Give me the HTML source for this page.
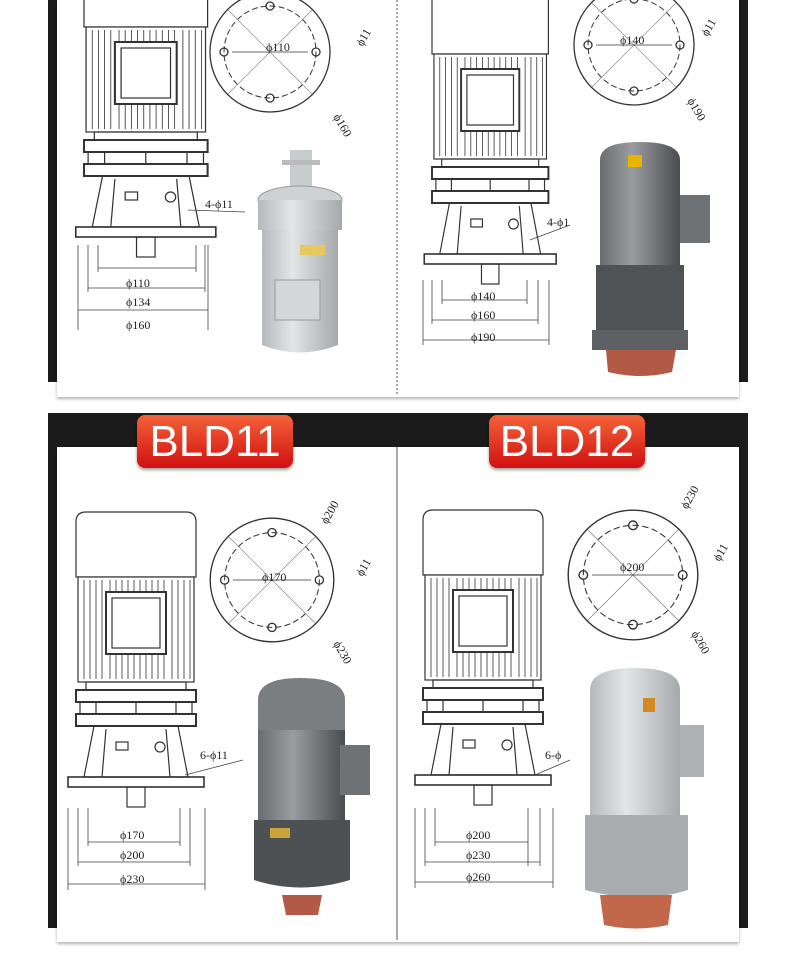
<!DOCTYPE html>
<html><head><meta charset="utf-8"><style>
body{margin:0;background:#fff;width:790px;height:969px;overflow:hidden;position:relative;font-family:"Liberation Serif",serif}
.abs{position:absolute;white-space:nowrap}
.lbl{position:absolute;height:53px;width:156px;border-radius:8px;background:linear-gradient(#f4623a,#d0100f);color:#fff;font:500 44px/53px "Liberation Sans",sans-serif;text-align:center;box-shadow:0 2px 3px rgba(0,0,0,.4)}
</style></head><body>
<div class="abs" style="left:48px;top:0;width:9px;height:382px;background:#1b1b1b"></div>
<div class="abs" style="left:739px;top:0;width:9px;height:382px;background:#1b1b1b"></div>
<div class="abs" style="left:57px;top:0;width:682px;height:397px;background:#fff;box-shadow:0 2px 3px rgba(0,0,0,.3)"></div>
<div class="abs" style="left:48px;top:413px;width:700px;height:34px;background:#1b1b1b"></div>
<div class="abs" style="left:48px;top:413px;width:9px;height:515px;background:#1b1b1b"></div>
<div class="abs" style="left:739px;top:413px;width:9px;height:515px;background:#1b1b1b"></div>
<div class="abs" style="left:57px;top:447px;width:682px;height:495px;background:#fff;box-shadow:0 2px 3px rgba(0,0,0,.3)"></div>

<svg class="abs" style="left:0;top:0" width="790" height="969" viewBox="0 0 790 969">
<defs>
<g id="motor" fill="none" stroke="#333" stroke-width="1.2">
 <path d="M0 0 V-55 Q0 -65 10 -65 H110 Q120 -65 120 -55 V0 Z" fill="#fff"/>
 <rect x="2" y="0" width="116" height="105" fill="#fff"/>
 <path stroke-width=".8" d="M8 3V102M14 3V102M20 3V102M26 3V102M96 3V102M102 3V102M108 3V102M114 3V102M34 3V14M40 3V14M46 3V14M52 3V14M58 3V14M64 3V14M70 3V14M76 3V14M82 3V14M88 3V14M34 78V102M40 78V102M46 78V102M52 78V102M58 78V102M64 78V102M70 78V102M76 78V102M82 78V102M88 78V102"/>
 <rect x="30" y="15" width="60" height="62" stroke-width="2"/>
 <rect x="36" y="21" width="48" height="50"/>
 <rect x="10" y="105" width="100" height="8"/>
 <rect x="0" y="113" width="120" height="12" stroke-width="2"/>
 <rect x="4" y="125" width="112" height="12"/>
 <path d="M20 125V137M60 125V137M100 125V137"/>
 <rect x="0" y="137" width="120" height="12" stroke-width="2"/>
 <path d="M18 149 L8 200 H112 L102 149 Z"/>
 <path d="M30 152 L26 200 M90 152 L94 200"/>
 <rect x="40" y="165" width="12" height="8"/>
 <circle cx="84" cy="170" r="5"/>
 <rect x="-8" y="200" width="136" height="10" stroke-width="1.6"/>
 <rect x="51" y="210" width="18" height="20"/>
</g>
<g id="flange" fill="none" stroke="#333" stroke-width="1.3">
 <circle r="60"/><circle r="46" stroke-dasharray="6 3" stroke-width="1"/>
 <path stroke-width=".6" stroke="#777" d="M-42 -42 L42 42 M42 -42 L-42 42"/>
 <circle cx="0" cy="-46" r="4"/><circle cx="0" cy="46" r="4"/><circle cx="-46" cy="0" r="4"/><circle cx="46" cy="0" r="4"/>
 <path stroke-width=".8" d="M-38 0 H38"/>
</g>
<linearGradient id="gy" x1="0" x2="1"><stop offset="0" stop-color="#6a6d70"/><stop offset=".4" stop-color="#9a9da0"/><stop offset="1" stop-color="#4a4c4f"/></linearGradient>
<linearGradient id="lg" x1="0" x2="1"><stop offset="0" stop-color="#b5b9bb"/><stop offset=".4" stop-color="#e3e6e7"/><stop offset="1" stop-color="#a5a9ab"/></linearGradient>
</defs>

<line x1="397" y1="0" x2="397" y2="395" stroke="#555" stroke-dasharray="2 2"/>
<line x1="397" y1="447" x2="397" y2="940" stroke="#555"/>

<use href="#motor" transform="translate(84,27) scale(1.03,1)"/>
<use href="#flange" transform="translate(270,52)"/>
<g fill="none" stroke="#444" stroke-width=".8">
<path d="M98 268H196M88 288H205M78 310H208M98 245V272M196 245V272M88 245V292M205 245V292M78 245V330M208 245V330M188 210L245 212"/>
</g>
<g>
<rect x="290" y="150" width="22" height="45" fill="#c9cccd"/><rect x="282" y="160" width="38" height="5" fill="#bbb"/>
<ellipse cx="300" cy="200" rx="42" ry="14" fill="#cfd2d3" stroke="#999"/>
<path d="M258 200 H342 V230 H258Z" fill="url(#lg)"/>
<path d="M262 230 H338 V345 Q300 360 262 345Z" fill="url(#lg)"/>
<rect x="275" y="280" width="45" height="40" fill="#d4d7d8" stroke="#999"/>
<rect x="300" y="245" width="25" height="10" fill="#e5c860"/>
</g>

<use href="#motor" transform="translate(432,54) scale(0.97,1)"/>
<use href="#flange" transform="translate(634,45)"/>
<g fill="none" stroke="#444" stroke-width=".8">
<path d="M442 300H527M432 320H538M423 340H549M442 280V304M527 280V304M432 280V324M538 280V324M423 280V345M549 280V345M530 240L570 225"/>
</g>
<g>
<path d="M600 160 Q600 142 640 142 Q680 142 680 160 V265 H600Z" fill="url(#gy)"/>
<rect x="628" y="155" width="14" height="12" fill="#e8b400"/>
<rect x="680" y="195" width="30" height="48" fill="#6f7274"/>
<path d="M596 265 H684 V330 Q640 345 596 330Z" fill="#4f5356"/>
<path d="M592 330 H688 V350 H592Z" fill="#5c6063"/>
<path d="M606 350 H676 L672 372 Q640 380 608 372Z" fill="#b25a45"/>
</g>

<use href="#motor" transform="translate(76,577) scale(1.0,1)"/>
<use href="#flange" transform="translate(272,580) scale(1.03)"/>
<g fill="none" stroke="#444" stroke-width=".8">
<path d="M88 842H180M78 862H190M68 884H205M88 808V846M180 808V846M78 808V866M190 808V866M68 808V890M205 808V890M185 775L243 760"/>
</g>
<g>
<path d="M258 700 Q258 678 300 678 Q345 678 345 700 V730 H258Z" fill="#7b7e81"/>
<path d="M258 730 H345 V820 H258Z" fill="url(#gy)"/>
<rect x="340" y="745" width="30" height="50" fill="#6f7274"/>
<path d="M254 820 H350 V880 Q300 895 254 880Z" fill="#4d5154"/>
<rect x="270" y="828" width="20" height="10" fill="#c9a23a"/>
<path d="M282 895 H322 L318 915 H286Z" fill="#b25a45"/>
</g>

<use href="#motor" transform="translate(423,575) scale(1.0,1)"/>
<use href="#flange" transform="translate(633,575) scale(1.08)"/>
<g fill="none" stroke="#444" stroke-width=".8">
<path d="M435 842H528M425 862H540M415 882H553M435 808V846M528 808V866M425 808V866M540 808V866M415 808V888M553 808V888M535 775L570 760"/>
</g>
<g>
<path d="M590 690 Q590 668 635 668 Q680 668 680 690 V815 H590Z" fill="url(#lg)"/>
<rect x="643" y="698" width="12" height="14" fill="#d08a20"/>
<rect x="680" y="725" width="24" height="52" fill="#aeb2b4"/>
<path d="M585 815 H688 V890 Q640 905 585 890Z" fill="#a9adaf"/>
<path d="M600 895 H672 L668 925 Q636 932 604 925Z" fill="#c2674a"/>
</g>
</svg>

<div class="abs" style="left:0;top:0;font-size:12px;color:#222">
<span class="abs" style="left:266px;top:40px">ϕ110</span>
<span class="abs" style="left:355px;top:30px;transform:rotate(-60deg)">ϕ11</span>
<span class="abs" style="left:330px;top:118px;transform:rotate(60deg)">ϕ160</span>
<span class="abs" style="left:205px;top:197px">4-ϕ11</span>
<span class="abs" style="left:126px;top:276px">ϕ110</span>
<span class="abs" style="left:126px;top:295px">ϕ134</span>
<span class="abs" style="left:126px;top:318px">ϕ160</span>

<span class="abs" style="left:620px;top:33px">ϕ140</span>
<span class="abs" style="left:700px;top:20px;transform:rotate(-60deg)">ϕ11</span>
<span class="abs" style="left:684px;top:102px;transform:rotate(60deg)">ϕ190</span>
<span class="abs" style="left:547px;top:215px">4-ϕ1</span>
<span class="abs" style="left:471px;top:289px">ϕ140</span>
<span class="abs" style="left:471px;top:308px">ϕ160</span>
<span class="abs" style="left:471px;top:330px">ϕ190</span>

<span class="abs" style="left:318px;top:505px;transform:rotate(-60deg)">ϕ200</span>
<span class="abs" style="left:262px;top:570px">ϕ170</span>
<span class="abs" style="left:355px;top:560px;transform:rotate(-60deg)">ϕ11</span>
<span class="abs" style="left:330px;top:645px;transform:rotate(60deg)">ϕ230</span>
<span class="abs" style="left:200px;top:748px">6-ϕ11</span>
<span class="abs" style="left:120px;top:828px">ϕ170</span>
<span class="abs" style="left:120px;top:848px">ϕ200</span>
<span class="abs" style="left:120px;top:872px">ϕ230</span>

<span class="abs" style="left:678px;top:490px;transform:rotate(-60deg)">ϕ230</span>
<span class="abs" style="left:620px;top:560px">ϕ200</span>
<span class="abs" style="left:712px;top:545px;transform:rotate(-60deg)">ϕ11</span>
<span class="abs" style="left:688px;top:635px;transform:rotate(60deg)">ϕ260</span>
<span class="abs" style="left:545px;top:748px">6-ϕ</span>
<span class="abs" style="left:466px;top:828px">ϕ200</span>
<span class="abs" style="left:466px;top:848px">ϕ230</span>
<span class="abs" style="left:466px;top:870px">ϕ260</span>
</div>

<div class="lbl" style="left:137px;top:415px">BLD11</div>
<div class="lbl" style="left:489px;top:415px">BLD12</div>
</body></html>
